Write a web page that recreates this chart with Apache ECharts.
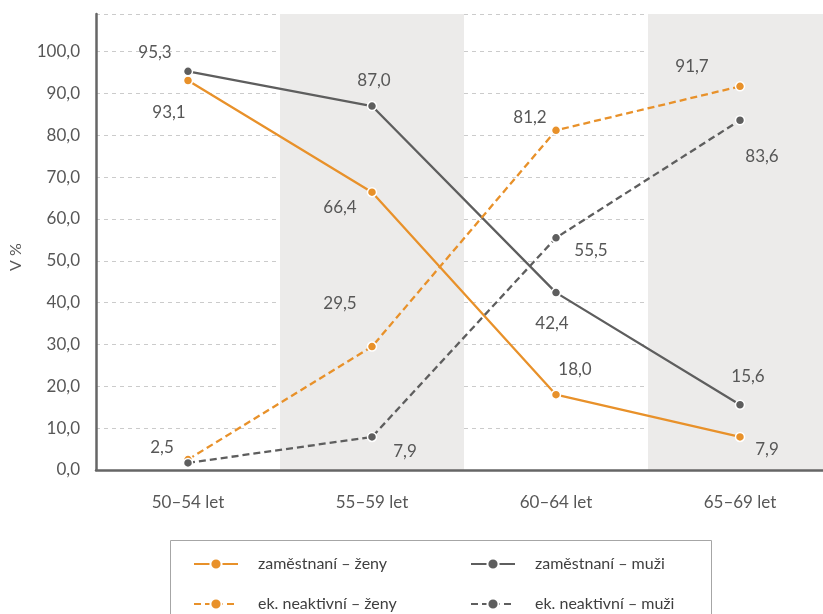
<!DOCTYPE html>
<html>
<head>
<meta charset="utf-8">
<script src="https://cdn.jsdelivr.net/npm/echarts@6/dist/echarts.min.js"></script>
<style>
html,body{margin:0;padding:0;background:#fff;}
#chart{width:823px;height:614px;}
</style>
</head>
<body>
<div id="chart"></div>
<script>
// ---- data ----
var categories = ['50–54 let', '55–59 let', '60–64 let', '65–69 let'];
var zamZeny = [93.1, 66.4, 18.0, 7.9];
var zamMuzi = [95.3, 87.0, 42.4, 15.6];
var neakZeny = [2.5, 29.5, 81.2, 91.7];
var neakMuzi = [1.7, 7.9, 55.5, 83.6];
var showLabelNeakMuzi = [false, true, true, true];
var seriesNames = ['zaměstnaní – ženy', 'zaměstnaní – muži', 'ek. neaktivní – ženy', 'ek. neaktivní – muži'];
var yTicks = [0, 10, 20, 30, 40, 50, 60, 70, 80, 90, 100];

// ---- label placement (layout only) ----
var offZamZeny = [[-19, 32], [-32, 15], [19, -25], [27, 13]];
var offZamMuzi = [[-33, -19], [2, -26], [-4, 31], [8, -28]];
var offNeakZeny = [[-26, -12], [-32, -43], [-26, -13], [-48, -20]];
var offNeakMuzi = [[0, 0], [33, 15], [35, 13], [22, 36]];

var ORANGE = '#E8912A';
var GRAY = '#5E5E5E';
var TEXT = '#575757';
var FONT = 'Lato, "Noto Sans", sans-serif';

function fmt(v) { return v.toFixed(1).replace('.', ','); }

function buildData(values, offsets, show) {
  return values.map(function (v, i) {
    return {
      value: v,
      label: {
        show: show ? show[i] : true,
        position: 'inside',
        offset: offsets[i]
      }
    };
  });
}

function mkSeries(name, values, offsets, color, dashed, show) {
  return {
    name: name,
    type: 'line',
    data: buildData(values, offsets, show),
    symbol: 'circle',
    symbolSize: 9,
    itemStyle: { color: color, borderColor: '#fff', borderWidth: 1.5 },
    lineStyle: { color: color, width: 2.3, type: dashed ? [7, 4] : 'solid' },
    label: {
      formatter: function (p) { return fmt(p.value); },
      color: TEXT,
      fontFamily: FONT,
      fontSize: 17
    },
    emphasis: { disabled: true },
    animation: false
  };
}

var legendText = {
  color: '#3f3f3f', fontFamily: FONT, fontSize: 16,
  rich: { t: { color: '#3f3f3f', fontFamily: FONT, fontSize: 16, padding: [0, 0, 0, 15] } }
};

var chart = echarts.init(document.getElementById('chart'), null, { renderer: 'canvas' });

chart.setOption({
  backgroundColor: '#fff',
  animation: false,
  grid: { left: 96, top: 14, width: 736, height: 456, containLabel: false, outerBoundsMode: 'none' },
  graphic: [{
    type: 'rect',
    left: 168,
    top: 538,
    shape: { width: 541, height: 100 },
    style: { fill: 'none', stroke: '#A6A6A6', lineWidth: 1 },
    silent: true,
    z: -1
  }],
  xAxis: {
    type: 'category',
    data: categories,
    boundaryGap: true,
    axisLine: { show: true, lineStyle: { color: '#666', width: 2.5 } },
    axisTick: { show: false },
    axisLabel: { color: TEXT, fontFamily: FONT, fontSize: 17, margin: 24 },
    splitArea: { show: true, areaStyle: { color: ['rgba(255,255,255,0)', '#ECEBEA'] } },
    splitLine: { show: false }
  },
  yAxis: {
    type: 'value',
    min: 0,
    max: 109,
    interval: 10,
    name: 'V %',
    nameLocation: 'middle',
    nameGap: 72,
    nameTextStyle: { color: TEXT, fontFamily: FONT, fontSize: 16, padding: [0, 0, 0, -30] },
    axisLine: { show: true, lineStyle: { color: '#666', width: 2.5 } },
    axisTick: { show: false },
    axisLabel: {
      color: TEXT, fontFamily: FONT, fontSize: 17, margin: 16,
      formatter: function (v) { return yTicks.indexOf(v) >= 0 ? fmt(v) : ''; }
    },
    splitLine: { show: true, lineStyle: { color: '#CBCBCB', width: 1, type: [4, 4] } }
  },
  legend: [
    {
      data: [seriesNames[0], seriesNames[2]],
      orient: 'vertical',
      left: 193,
      top: 556,
      width: 300,
      height: 60,
      padding: 0,
      itemGap: 24,
      itemWidth: 44,
      itemHeight: 14,
      selectedMode: false,
      formatter: function (n) { return '{t|' + n + '}'; },
      textStyle: legendText
    },
    {
      data: [seriesNames[1], seriesNames[3]],
      orient: 'vertical',
      left: 470,
      top: 556,
      width: 300,
      height: 60,
      padding: 0,
      itemGap: 24,
      itemWidth: 44,
      itemHeight: 14,
      selectedMode: false,
      formatter: function (n) { return '{t|' + n + '}'; },
      textStyle: legendText
    }
  ],
  series: [
    mkSeries(seriesNames[0], zamZeny, offZamZeny, ORANGE, false),
    mkSeries(seriesNames[1], zamMuzi, offZamMuzi, GRAY, false),
    mkSeries(seriesNames[2], neakZeny, offNeakZeny, ORANGE, true),
    mkSeries(seriesNames[3], neakMuzi, offNeakMuzi, GRAY, true, showLabelNeakMuzi)
  ]
});
</script>
</body>
</html>
